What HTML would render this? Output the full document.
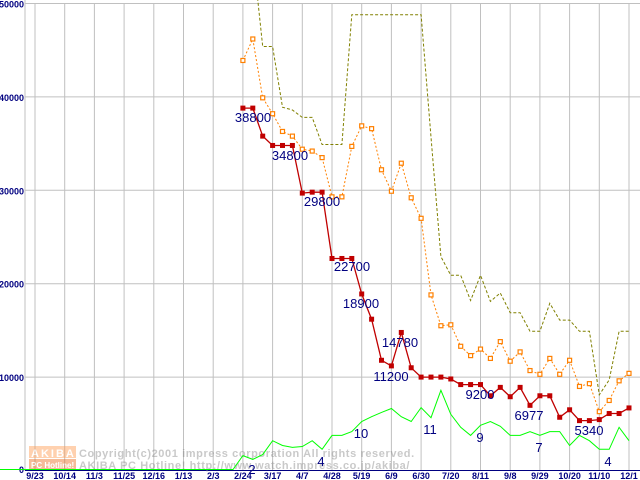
<!DOCTYPE html>
<html><head><meta charset="utf-8"><style>
html,body{margin:0;padding:0;background:#fff;}
svg{display:block;}
text{font-family:"Liberation Sans",sans-serif;}
</style></head><body>
<svg id="chart" width="640" height="480" viewBox="0 0 640 480" xmlns="http://www.w3.org/2000/svg"></svg>
<script>
const xTickLabels = ["9/23","10/14","11/3","11/25","12/16","1/13","2/3","2/24","3/17","4/7","4/28","5/19","6/9","6/30","7/20","8/11","9/8","9/29","10/20","11/10","12/1"];
const yTicks = [0,10000,20000,30000,40000,50000];
const redStart = 21;
const redValues = [38800,38800,35800,34800,34800,34800,29700,29800,29800,22700,22700,22700,18900,16200,11800,11200,14780,11000,10000,10000,10000,9800,9200,9200,9200,8000,8900,7900,8900,6977,8000,8000,5700,6500,5340,5340,5450,6100,6100,6700];
const orangeStart = 21;
const orangeValues = [43900,46200,39900,38200,36300,35800,34400,34200,33500,29300,29300,34700,36900,36600,32200,29900,32900,29200,27000,18800,15500,15600,13300,12300,13000,12000,13800,11700,12700,10700,10300,12000,10300,11800,9000,9300,6300,7500,9600,10400];
const oliveStart = 22;
const oliveValues = [55400,45400,45400,38900,38600,37800,37800,34900,34900,34900,48800,48800,48800,48800,48800,48800,48800,48800,35700,22900,20900,20900,18200,20900,18100,19000,16900,16900,14900,14900,17900,16100,16100,14900,14900,8100,9700,14900,14900];
const greenStart = -4;
const greenValues = [0,0,0,0,0,0,0,0,0,0,0,0,0,0,0,0,0,0,0,0,0,0,0,0,0,2.9,2.1,3.1,6.0,5.0,4.6,4.8,6.0,4.2,7.1,7.1,7.9,10,11,11.9,12.7,11,10,12.9,10.8,16.5,11.5,8.8,7.1,9.2,10,9.0,7.1,7.1,7.9,7.1,7.9,7.9,5.0,7.1,6.0,4.2,4.2,8.8,6.0];
const redLabels = [["38800",253,122],["34800",290,160],["29800",322,206],["22700",352,271],["18900",361,308],["14780",400,347],["11200",391,381],["9200",480,399],["6977",529,420],["5340",589,435]];
const greenLabels = [["2",252,474],["4",321,466],["10",361,438],["11",430,434],["9",480,442],["7",539,452],["4",608,466]];

const svg = document.getElementById('chart');
const NS = 'http://www.w3.org/2000/svg';
function xW(k){ return 35 + 9.9*k; }
function yV(v){ return 470.5 - v*0.00934; }
function yG(c){ return 469.5 - c*4.8; }
function mk(tag, attrs){ const e=document.createElementNS(NS,tag); for(const k in attrs) e.setAttribute(k,attrs[k]); svg.appendChild(e); return e; }

// grid
for(let i=0;i<xTickLabels.length;i++){
  const x = xW(i*3);
  const g = mk('line',{x1:x,y1:4,x2:x,y2:470,stroke:'#c0c0c0','stroke-width':1});
  
  
  const t = mk('text',{x:x,y:479,'font-size':9,'font-weight':'bold',fill:'#000080','text-anchor':'middle'});
  
  
  t.textContent = xTickLabels[i];
}
yTicks.forEach(v=>{
  const y = yV(v);
  if(v>0){
    const g = mk('line',{x1:25,y1:y,x2:640,y2:y,stroke:'#c0c0c0','stroke-width':1});
    
    
  }
  const t = mk('text',{x:24,y:v===0?473:y+4,'font-size':9,'font-weight':'bold',fill:'#000080','text-anchor':'end'});
  
  
  t.textContent = String(v);
});
const ax = mk('line',{x1:25,y1:0,x2:25,y2:471,stroke:'#c0c0c0','stroke-width':1});


const bx = mk('line',{x1:25,y1:470.5,x2:640,y2:470.5,stroke:'#000080','stroke-width':1});



// watermark
const wm = mk('g',{opacity:0.45});


const wmr1 = document.createElementNS(NS,'rect'); wmr1.setAttribute('x',29); wmr1.setAttribute('y',446); wmr1.setAttribute('width',47); wmr1.setAttribute('height',12); wmr1.setAttribute('fill','#ff9a50'); wm.appendChild(wmr1);
const wmr2 = document.createElementNS(NS,'rect'); wmr2.setAttribute('x',29); wmr2.setAttribute('y',459); wmr2.setAttribute('width',47); wmr2.setAttribute('height',11); wmr2.setAttribute('fill','#e86a20'); wm.appendChild(wmr2);
[["AKIBA",31,457,11,'#fff',"bold"],["PC Hotline!",31,468,8,'#fff',"bold"],["Copyright(c)2001 impress corporation All rights reserved.",79,457,11,'#888',"bold"],["AKIBA PC Hotline! http://www.watch.impress.co.jp/akiba/",79,469,11,'#888',"bold"]].forEach(a=>{
  const t=document.createElementNS(NS,'text'); t.setAttribute('x',a[1]); t.setAttribute('y',a[2]); t.setAttribute('font-size',a[3]); t.setAttribute('fill',a[4]); t.setAttribute('font-weight',a[5]); t.setAttribute('font-family','Liberation Mono, monospace'); t.setAttribute('letter-spacing', a[3]===11 && a[1]===79 ? '0.6' : (a[0]==='AKIBA'?'2':'0')); t.textContent=a[0]; wm.appendChild(t);
});

function series(vals,start,yf,color,dash,name,width){
  const pts = vals.map((v,i)=>xW(start+i).toFixed(1)+','+yf(v).toFixed(1)).join(' ');
  const p = mk('polyline',{points:pts,fill:'none',stroke:color,'stroke-width':width,'stroke-dasharray':dash});
  
  
}
series(greenValues,greenStart,yG,'#00ff00','', 'series-green-line',1);
series(oliveValues,oliveStart,yV,'#808000','3,2','series-olive-line',1);
series(orangeValues,orangeStart,yV,'#ff8000','2,2','series-orange-line',1);
series(redValues,redStart,yV,'#c00000','','series-red-line',1.3);
orangeValues.forEach((v,i)=>{
  const r = mk('rect',{x:xW(orangeStart+i)-2,y:yV(v)-2,width:4,height:4,fill:'#fff',stroke:'#ff8000','stroke-width':1.2});
  
  
});
redValues.forEach((v,i)=>{
  const r = mk('rect',{x:xW(redStart+i)-2.5,y:yV(v)-2.5,width:5,height:5,fill:'#c00000'});
  
  
});
redLabels.concat(greenLabels).forEach(l=>{
  const t = mk('text',{x:l[1],y:l[2],'font-size':13,fill:'#000080','text-anchor':'middle'});
  
  
  t.textContent = l[0];
});
</script>
</body></html>
